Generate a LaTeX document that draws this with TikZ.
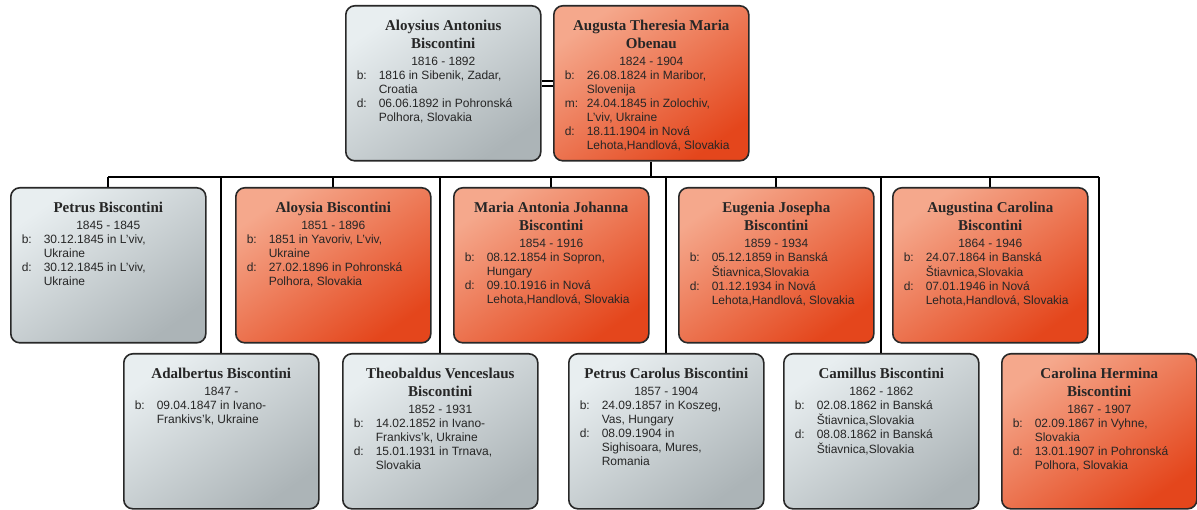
\documentclass[tikz,border=0pt]{standalone}
\usepackage{fontspec}
\setmainfont{Liberation Sans}
\newfontfamily\namefamily{Liberation Serif}
\usetikzlibrary{backgrounds}

\definecolor{greylight}{RGB}{232,238,240}
\definecolor{greydark}{RGB}{172,180,183}
\definecolor{orangelight}{RGB}{245,168,140}
\definecolor{orangedark}{RGB}{228,70,28}
\definecolor{boxline}{RGB}{40,40,40}

% card content: name, life span, places
\newcommand{\personcard}[3]{%
  \begin{minipage}[c][155pt][t]{195pt}
    {\centering\namefamily\bfseries\fontsize{15}{18}\selectfont\rule{0pt}{25pt}#1\par}
    \vspace{3pt}
    {\centering\fontsize{12}{14}\selectfont #2\par}
    \fontsize{12}{14}\selectfont
    \hspace*{11pt}\begin{tabular}[t]{@{}p{22pt}@{}l@{}}#3\end{tabular}
  \end{minipage}}

\tikzset{
  card/.style={draw=boxline, line width=1.6pt, rounded corners=9pt, inner sep=0pt,
    anchor=north west, text=black!85},
  greycard/.style={card, top color=greylight, bottom color=greydark, shading angle=35},
  orangecard/.style={card, top color=orangelight, bottom color=orangedark, shading angle=35},
  link/.style={line width=2pt, black},
  marriage/.style={double, double distance=2.5pt, line width=2pt}
}

\begin{document}
\begin{tikzpicture}[x=1pt, y=-1pt]
  \useasboundingbox (0,0) rectangle (1197,510);

  % Parents
  \node[greycard] (aloysius) at (345,5) {\personcard{Aloysius Antonius\\Biscontini}{1816 - 1892}{%
    b: & 1816 in Sibenik, Zadar,\\ & Croatia\\ d: & 06.06.1892 in Pohronská\\ & Polhora, Slovakia}};
  \node[orangecard] (augusta) at (553,5) {\personcard{Augusta Theresia Maria\\Obenau}{1824 - 1904}{%
    b: & 26.08.1824 in Maribor,\\ & Slovenija\\ m: & 24.04.1845 in Zolochiv,\\ & L'viv, Ukraine\\
    d: & 18.11.1904 in Nová\\ & Lehota,Handlová, Slovakia}};

  % Children, upper row
  \node[greycard] (petrus) at (10,187) {\personcard{Petrus Biscontini}{1845 - 1845}{%
    b: & 30.12.1845 in L'viv,\\ & Ukraine\\ d: & 30.12.1845 in L'viv,\\ & Ukraine}};
  \node[orangecard] (aloysia) at (235,187) {\personcard{Aloysia Biscontini}{1851 - 1896}{%
    b: & 1851 in Yavoriv, L'viv,\\ & Ukraine\\ d: & 27.02.1896 in Pohronská\\ & Polhora, Slovakia}};
  \node[orangecard] (maria) at (453,187) {\personcard{Maria Antonia Johanna\\Biscontini}{1854 - 1916}{%
    b: & 08.12.1854 in Sopron,\\ & Hungary\\ d: & 09.10.1916 in Nová\\ & Lehota,Handlová, Slovakia}};
  \node[orangecard] (eugenia) at (678,187) {\personcard{Eugenia Josepha\\Biscontini}{1859 - 1934}{%
    b: & 05.12.1859 in Banská\\ & Štiavnica,Slovakia\\ d: & 01.12.1934 in Nová\\ & Lehota,Handlová, Slovakia}};
  \node[orangecard] (augustina) at (892,187) {\personcard{Augustina Carolina\\Biscontini}{1864 - 1946}{%
    b: & 24.07.1864 in Banská\\ & Štiavnica,Slovakia\\ d: & 07.01.1946 in Nová\\ & Lehota,Handlová, Slovakia}};

  % Children, lower row
  \node[greycard] (adalbertus) at (123,353) {\personcard{Adalbertus Biscontini}{1847 -}{%
    b: & 09.04.1847 in Ivano-\\ & Frankivs'k, Ukraine}};
  \node[greycard] (theobaldus) at (342,353) {\personcard{Theobaldus Venceslaus\\Biscontini}{1852 - 1931}{%
    b: & 14.02.1852 in Ivano-\\ & Frankivs'k, Ukraine\\ d: & 15.01.1931 in Trnava,\\ & Slovakia}};
  \node[greycard] (petruscarolus) at (568,353) {\personcard{Petrus Carolus Biscontini}{1857 - 1904}{%
    b: & 24.09.1857 in Koszeg,\\ & Vas, Hungary\\ d: & 08.09.1904 in\\ & Sighisoara, Mures,\\ & Romania}};
  \node[greycard] (camillus) at (783,353) {\personcard{Camillus Biscontini}{1862 - 1862}{%
    b: & 02.08.1862 in Banská\\ & Štiavnica,Slovakia\\ d: & 08.08.1862 in Banská\\ & Štiavnica,Slovakia}};
  \node[orangecard] (carolina) at (1001,353) {\personcard{Carolina Hermina\\Biscontini}{1867 - 1907}{%
    b: & 02.09.1867 in Vyhne,\\ & Slovakia\\ d: & 13.01.1907 in Pohronská\\ & Polhora, Slovakia}};

  % Lines
  \begin{scope}[on background layer]
    \coordinate (bus) at (0,177);
    \draw[marriage] (aloysius.east) -- (augusta.west);
    \draw[link] (augusta.south) -- (augusta.south |- bus);
    \draw[link] (petrus.north |- bus) -- (carolina.north |- bus);
    \foreach \child in {petrus,aloysia,maria,eugenia,augustina,adalbertus,theobaldus,petruscarolus,camillus,carolina}
      \draw[link] (\child.north |- bus) -- (\child.north);
  \end{scope}
\end{tikzpicture}
\end{document}
